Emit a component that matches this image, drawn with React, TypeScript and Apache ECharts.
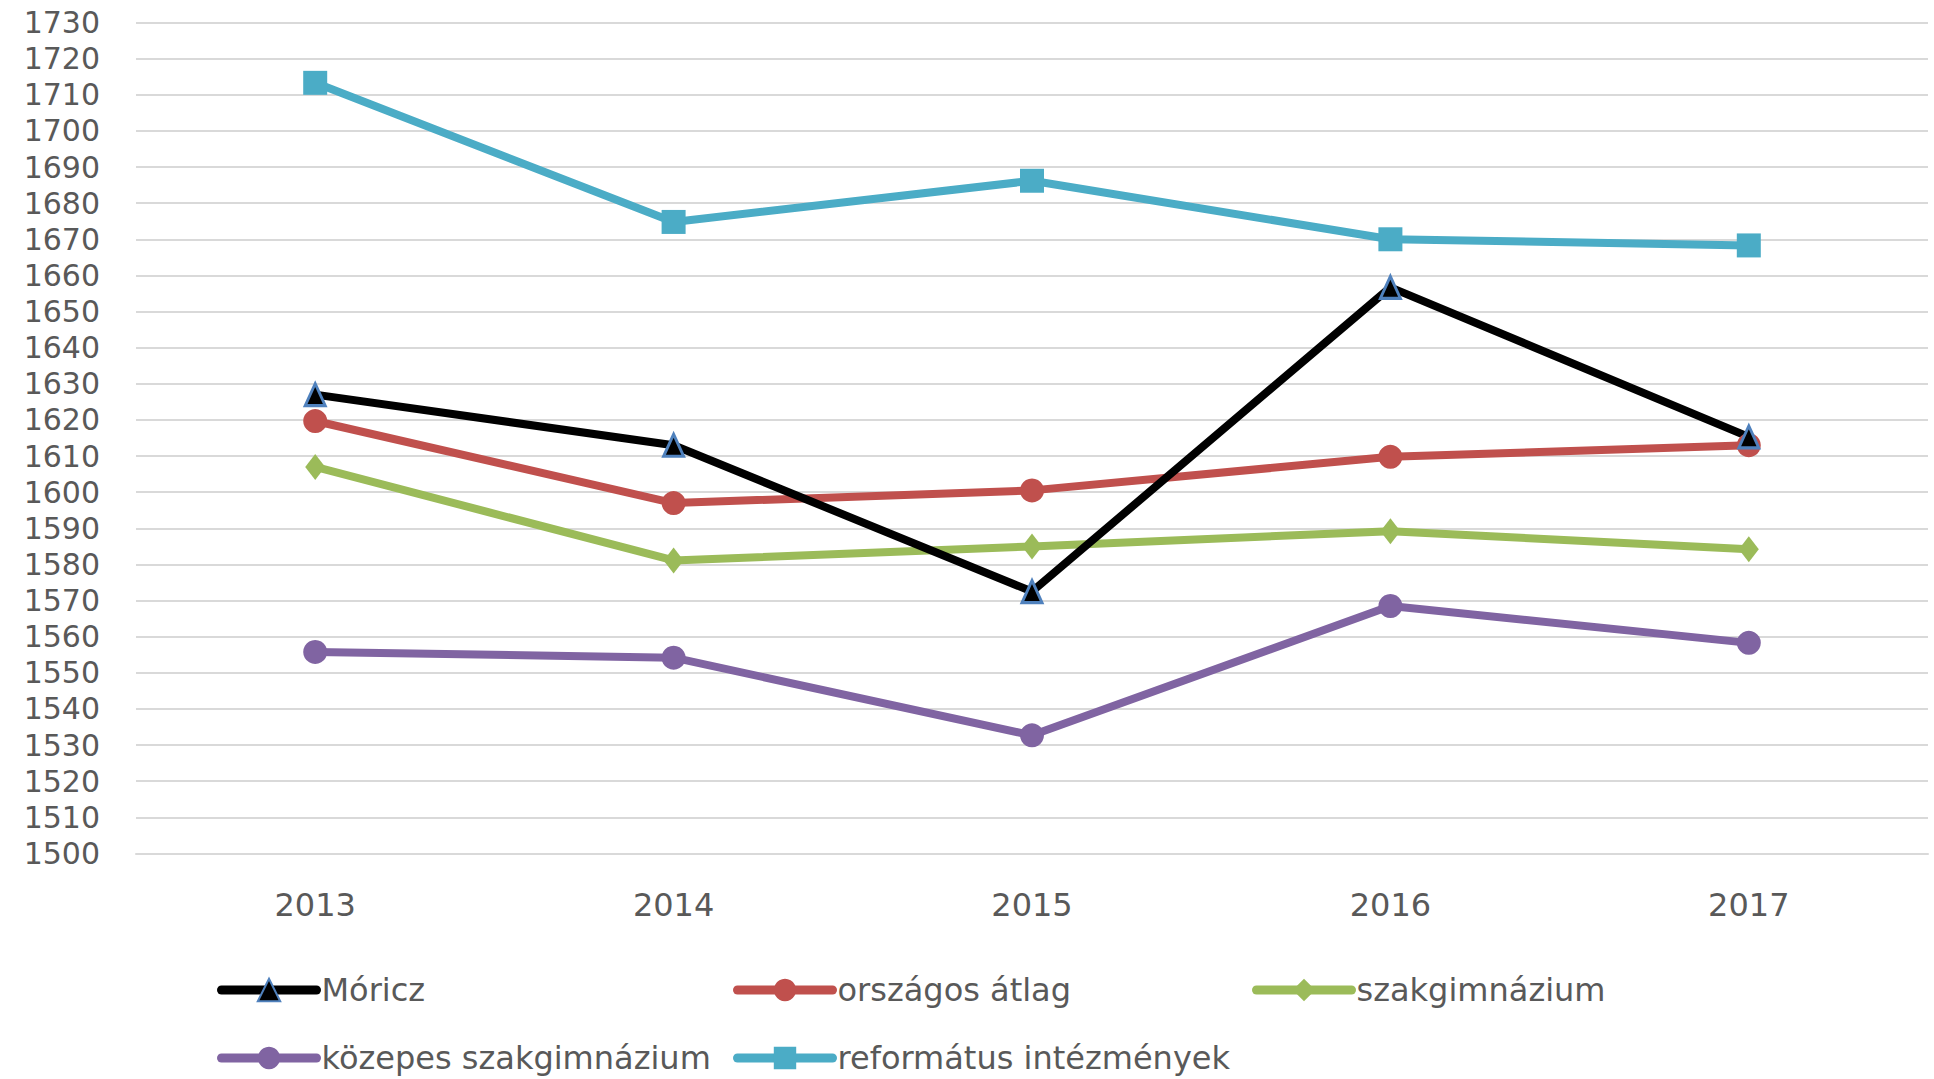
import React, { useEffect, useRef } from "react";
import * as echarts from "echarts";

const years = ["2013", "2014", "2015", "2016", "2017"];
const moricz = [1627, 1613, 1572.5, 1656.7, 1615.3];
const orszagosAtlag = [1619.7, 1597, 1600.5, 1609.8, 1613];
const szakgimnazium = [1607, 1581.1, 1585, 1589.2, 1584.2];
const kozepesSzakgimnazium = [1555.8, 1554.2, 1532.7, 1568.5, 1558.3];
const reformatus = [1713.3, 1674.8, 1686.2, 1670, 1668.3];

const yMin = 1500;
const yMax = 1730;
const yStep = 10;

const FONT = "'DejaVu Sans', sans-serif";
const TEXT_COLOR = "#595959";

export default function App() {
  const ref = useRef<HTMLDivElement>(null);

  useEffect(() => {
    if (!ref.current) return;
    const chart = echarts.init(ref.current, undefined, { renderer: "svg" });

    const mk = (
      name: string,
      data: number[],
      color: string,
      symbol: string,
      symbolSize: number | number[],
      itemStyle: any
    ) => ({
      name,
      type: "line",
      data,
      symbol,
      symbolSize,
      showSymbol: true,
      lineStyle: { color, width: 8, cap: "round", join: "round" },
      itemStyle: { color, ...itemStyle },
      z: 2,
    });

    const legendBase = {
      orient: "horizontal",
      padding: 0,
      itemWidth: 95,
      itemHeight: 28,
      lineStyle: { width: 9, cap: "round" },
      textStyle: { fontFamily: FONT, fontSize: 32, lineHeight: 34, color: TEXT_COLOR },
    };

    chart.setOption({
      animation: false,
      backgroundColor: "#ffffff",
      grid: { left: 136, right: 6, top: 22.5, bottom: 225.5, containLabel: false },
      xAxis: {
        type: "category",
        data: years,
        boundaryGap: true,
        axisLine: { show: true, lineStyle: { color: "#d9d9d9", width: 2 } },
        axisTick: { show: false },
        axisLabel: { fontFamily: FONT, fontSize: 32, lineHeight: 34, color: TEXT_COLOR, margin: 34 },
        splitLine: { show: false },
      },
      yAxis: {
        type: "value",
        min: yMin,
        max: yMax,
        interval: yStep,
        axisLine: { show: false },
        axisTick: { show: false },
        axisLabel: {
          fontFamily: FONT,
          fontSize: 30,
          lineHeight: 34,
          color: TEXT_COLOR,
          margin: 36,
          formatter: (v: number) => String(v),
        },
        splitLine: { show: true, lineStyle: { color: "#d9d9d9", width: 2 } },
      },
      legend: [
        { ...legendBase, left: 217, top: 973, data: ["Móricz"] },
        { ...legendBase, left: 733, top: 973, data: ["országos átlag"] },
        { ...legendBase, left: 1252, top: 973, data: ["szakgimnázium"] },
        { ...legendBase, left: 217, top: 1041, data: ["közepes szakgimnázium"] },
        { ...legendBase, left: 733, top: 1041, data: ["református intézmények"] },
      ],
      series: [
        mk("közepes szakgimnázium", kozepesSzakgimnazium, "#8064a2", "circle", 24, {}),
        mk("szakgimnázium", szakgimnazium, "#9bbb59", "diamond", [20, 26], {}),
        mk("országos átlag", orszagosAtlag, "#c0504d", "circle", 24, {}),
        mk("Móricz", moricz, "#000000", "triangle", [20, 22], {
          color: "#000000",
          borderColor: "#4f81bd",
          borderWidth: 3,
        }),
        mk("református intézmények", reformatus, "#4bacc6", "rect", 24, {}),
      ],
    });

    return () => chart.dispose();
  }, []);

  return (
    <div
      ref={ref}
      style={{ position: "fixed", left: 0, top: 0, width: 1934, height: 1079, background: "#fff" }}
    />
  );
}
